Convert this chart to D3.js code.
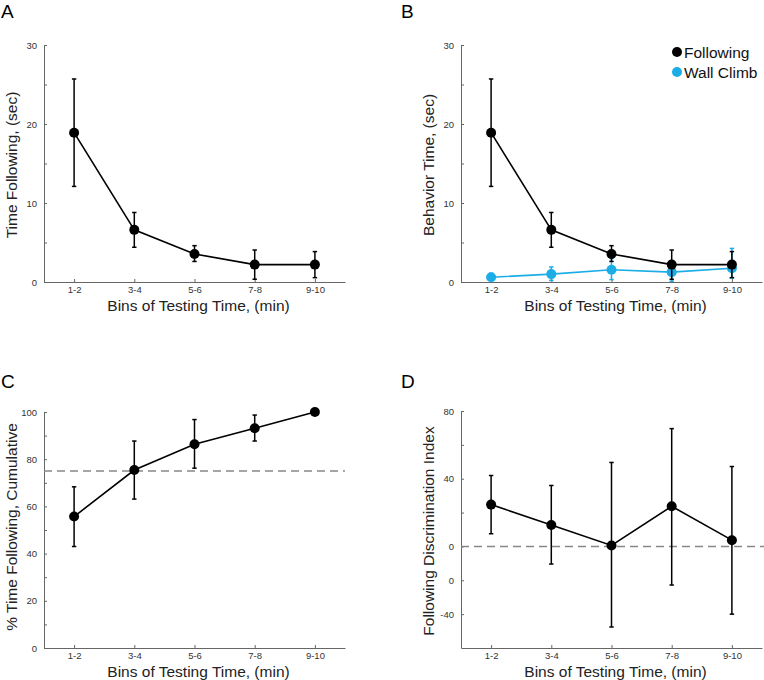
<!DOCTYPE html>
<html><head><meta charset="utf-8">
<script src="https://cdn.jsdelivr.net/npm/d3@7"></script>
<style>body{margin:0;background:#fff}svg{display:block;font-family:"Liberation Sans",Arial,sans-serif}</style>
</head><body>
<svg id="c" width="764" height="680"></svg>
<script>
const categories = ["1-2","3-4","5-6","7-8","9-10"];
const followTime = [18.9, 6.6, 3.55, 2.2, 2.2];
const followTimeLow = [12.1, 4.4, 2.6, 0.35, 0.55];
const followTimeHigh = [25.7, 8.8, 4.6, 4.05, 3.85];
const wallClimb = [0.6, 1.0, 1.55, 1.25, 1.75];
const wallClimbLow = [0.2, 0.2, 0.3, 0.1, 0.5];
const wallClimbHigh = [1.1, 1.9, 3.0, 2.5, 4.25];
const cumulative = [55.7, 75.4, 86.3, 93.1, 100];
const cumulativeLow = [43.0, 63.1, 76.2, 87.7, null];
const cumulativeHigh = [68.3, 87.7, 96.8, 98.7, null];
const discrimination = [24.7, 12.7, 0.6, 23.7, 3.7];
const discriminationLow = [7.5, -10.4, -47.6, -22.8, -40.0];
const discriminationHigh = [41.9, 36.0, 49.6, 69.6, 47.2];
const timeTicks = [0, 5, 10, 15, 20, 25, 30];
const timeTickLabels = ["0", "", "10", "", "20", "", "30"];
const pctTicks = [0, 10, 20, 30, 40, 50, 60, 70, 80, 90, 100];
const pctTickLabels = ["0", "", "20", "", "40", "", "60", "", "80", "", "100"];
const discTicks = [80, 60, 40, 20, 0, -20, -40];
const discTickLabels = ["80", "", "40", "", "0", "0", "-40"];
const legendLabels = ["Following", "Wall Climb"];
const BLACK = "#000", CYAN = "#1badE6";

const svg = d3.select("#c");

function panel(o) {
  const g = svg.append("g");
  const x = d3.scalePoint().domain(categories).range([o.x0, o.x1]).padding(0.5);
  const y = d3.scaleLinear().domain(o.yDomain).range([o.yBottom, o.yTop]);
  const xa = g.append("g").attr("transform", `translate(0,${o.yBottom})`)
    .call(d3.axisBottom(x).tickSizeInner(-3).tickSizeOuter(0).tickPadding(4));
  xa.select(".domain").attr("stroke", "#666");
  xa.selectAll(".tick line").attr("stroke", "#666");
  xa.selectAll("text").attr("font-size", 9.5).attr("fill", "#333").attr("font-family", "Liberation Sans, Arial, sans-serif");
  const ya = g.append("g").attr("transform", `translate(${o.x0},0)`)
    .call(d3.axisLeft(y).tickValues(o.ticks).tickSizeInner(-3).tickSizeOuter(0).tickPadding(7)
      .tickFormat((d, i) => o.tickLabels[i]));
  ya.select(".domain").attr("stroke", "#666");
  ya.selectAll(".tick line").attr("stroke", "#666");
  ya.selectAll("text").attr("font-size", 9.5).attr("fill", "#333").attr("font-family", "Liberation Sans, Arial, sans-serif");
  if (o.refLine !== undefined) {
    g.append("line").attr("x1", o.x0).attr("x2", o.refX1 || o.x1)
      .attr("y1", y(o.refLine)).attr("y2", y(o.refLine))
      .attr("stroke", "#888").attr("stroke-width", 1.5).attr("stroke-dasharray", "8,5");
  }
  o.series.forEach(s => {
    const pts = categories.map((c, i) => ({c, v: s.v[i], lo: s.lo[i], hi: s.hi[i]}));
    g.append("path").datum(pts).attr("fill", "none").attr("stroke", s.color).attr("stroke-width", 1.6)
      .attr("d", d3.line().x(d => x(d.c)).y(d => y(d.v)));
    const eb = g.append("g").attr("stroke", s.color).attr("stroke-width", 1.5);
    pts.filter(d => d.lo !== null).forEach(d => {
      eb.append("line").attr("x1", x(d.c)).attr("x2", x(d.c)).attr("y1", y(d.lo)).attr("y2", y(d.hi));
      eb.append("line").attr("x1", x(d.c) - 2.2).attr("x2", x(d.c) + 2.2).attr("y1", y(d.lo)).attr("y2", y(d.lo));
      eb.append("line").attr("x1", x(d.c) - 2.2).attr("x2", x(d.c) + 2.2).attr("y1", y(d.hi)).attr("y2", y(d.hi));
    });
    g.append("g").selectAll("circle").data(pts).join("circle")
      .attr("cx", d => x(d.c)).attr("cy", d => y(d.v)).attr("r", 5).attr("fill", s.color);
  });
  g.append("text").attr("x", (o.x0 + o.x1) / 2 + 4).attr("y", o.yBottom + 29).attr("text-anchor", "middle")
    .attr("font-size", 15.5).attr("fill", "#222").text("Bins of Testing Time, (min)");
  g.append("text").attr("transform", `translate(${o.yLabelX},${o.yLabelY}) rotate(-90)`).attr("text-anchor", "middle")
    .attr("font-size", 15.5).attr("fill", "#222").text(o.yLabel);
  g.append("text").attr("x", o.letterX).attr("y", o.letterY).attr("font-size", 19).attr("fill", "#000").text(o.letter);
  return {x, y, g};
}

panel({x0: 44, x1: 345, yTop: 45, yBottom: 282, yDomain: [0, 30], ticks: timeTicks, tickLabels: timeTickLabels,
  series: [{v: followTime, lo: followTimeLow, hi: followTimeHigh, color: BLACK}],
  yLabel: "Time Following, (sec)", yLabelX: 17, yLabelY: 165, letter: "A", letterX: 1, letterY: 18});

panel({x0: 461, x1: 762, yTop: 45, yBottom: 282, yDomain: [0, 30], ticks: timeTicks, tickLabels: timeTickLabels,
  series: [{v: wallClimb, lo: wallClimbLow, hi: wallClimbHigh, color: CYAN},
           {v: followTime, lo: followTimeLow, hi: followTimeHigh, color: BLACK}],
  yLabel: "Behavior Time, (sec)", yLabelX: 434, yLabelY: 165, letter: "B", letterX: 401, letterY: 18});

const leg = svg.append("g");
legendLabels.forEach((t, i) => {
  const yy = 52 + i * 20;
  leg.append("circle").attr("cx", 677).attr("cy", yy).attr("r", 5).attr("fill", i === 0 ? BLACK : CYAN);
  leg.append("text").attr("x", 684).attr("y", yy + 5.5).attr("font-size", 15.5).attr("fill", "#111").text(t);
});

panel({x0: 44, x1: 345, yTop: 412, yBottom: 648, yDomain: [0, 100], ticks: pctTicks, tickLabels: pctTickLabels,
  refLine: 75,
  series: [{v: cumulative, lo: cumulativeLow, hi: cumulativeHigh, color: BLACK}],
  yLabel: "% Time Following, Cumulative", yLabelX: 17, yLabelY: 527, letter: "C", letterX: 1, letterY: 388});

panel({x0: 461, x1: 762, yTop: 411, yBottom: 648, yDomain: [-60, 80], ticks: discTicks, tickLabels: discTickLabels,
  refLine: 0, refX1: 764,
  series: [{v: discrimination, lo: discriminationLow, hi: discriminationHigh, color: BLACK}],
  yLabel: "Following Discrimination Index", yLabelX: 434, yLabelY: 531, letter: "D", letterX: 401, letterY: 388});
</script>
</body></html>
